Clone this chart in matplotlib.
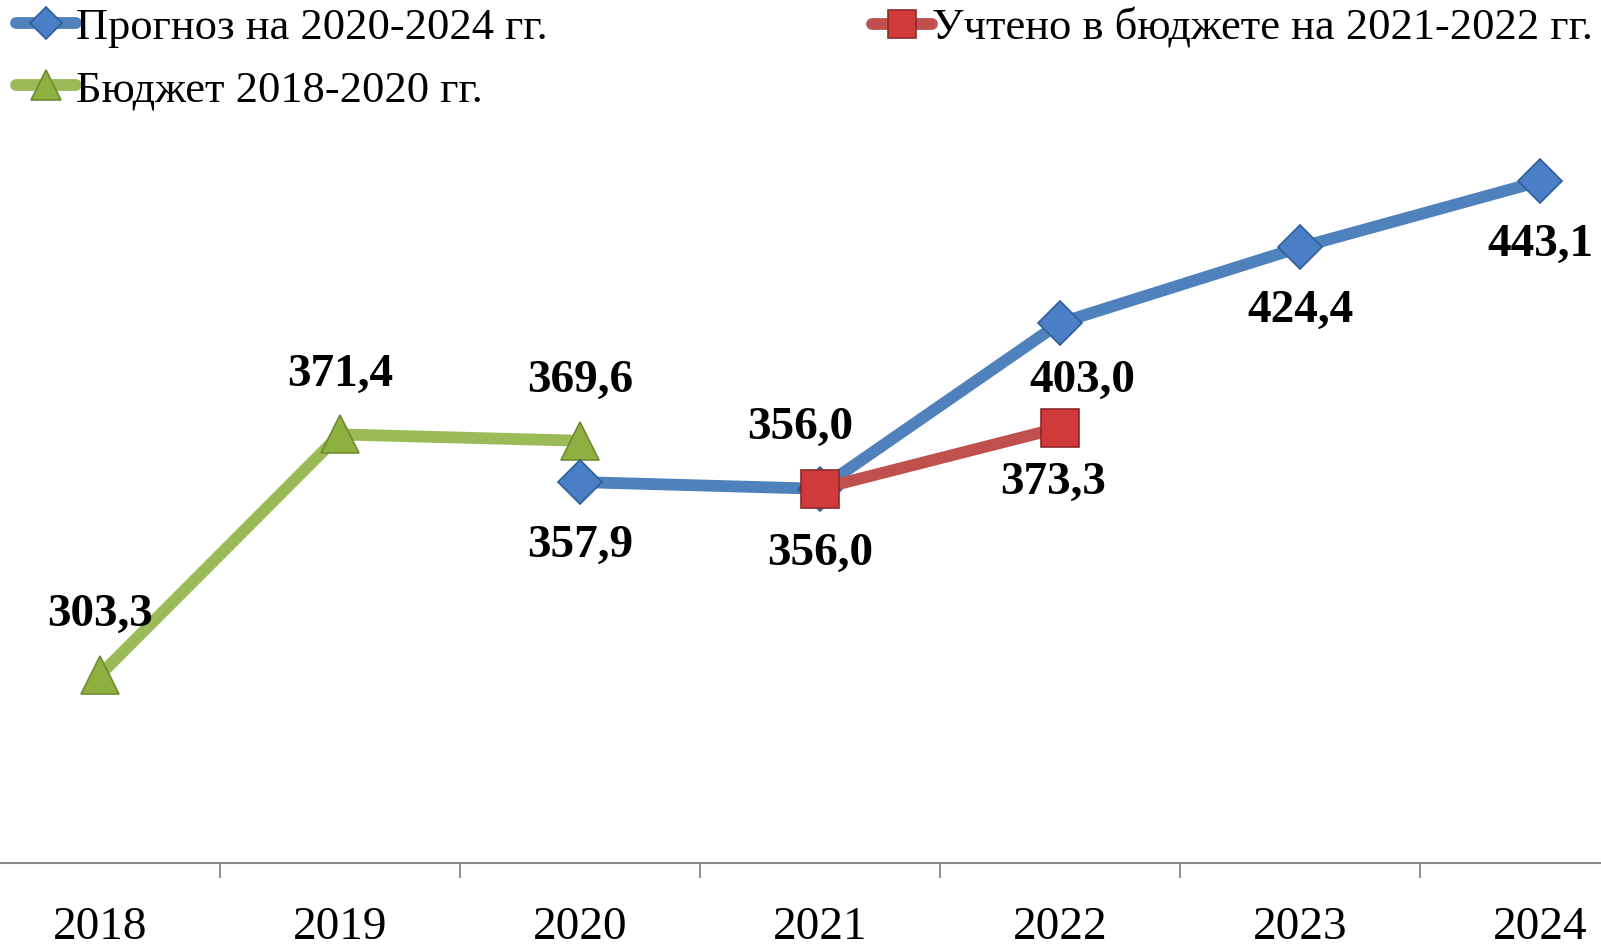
import matplotlib.pyplot as plt
import numpy as np

plt.rcParams['font.family'] = ['Liberation Serif', 'DejaVu Serif']

years = ['2018', '2019', '2020', '2021', '2022', '2023', '2024']

# Прогноз на 2020-2024 гг. (2020..2024)
forecast = [np.nan, np.nan, 357.9, 356.0, 403.0, 424.4, 443.1]
# Учтено в бюджете на 2021-2022 гг.
accounted = [np.nan, np.nan, np.nan, 356.0, 373.3, np.nan, np.nan]
# Бюджет 2018-2020 гг.
budget = [303.3, 371.4, 369.6, np.nan, np.nan, np.nan, np.nan]

blue = '#4F81BD'
red = '#C0504D'
green = '#9BBB59'

fig = plt.figure(figsize=(16.01, 9.51), dpi=100)
ax = fig.add_axes([-20 / 1601, 0.0925, 1680 / 1601, 0.7425])

x = np.arange(len(years))

l_green, = ax.plot(x, budget, color=green, lw=8.5, marker='^', ms=28,
                   mfc='#8DB040', mec='#6E8A33', mew=1.2, solid_capstyle='round', zorder=3)
l_blue, = ax.plot(x, forecast, color=blue, lw=8.5, marker='D', ms=22,
                  mfc='#4A7FC8', mec='#2F5D98', mew=1.2, solid_capstyle='round', zorder=3)
l_red, = ax.plot(x, accounted, color=red, lw=8.5, marker='s', ms=27,
                 mfc='#D23B3B', mec='#8E2A2A', mew=1.2, solid_capstyle='round', zorder=4)

def fmt(v):
    return f'{v:.1f}'.replace('.', ',')

lab = dict(fontsize=34, fontweight='bold', ha='center', va='center',
           textcoords='offset points', zorder=5)

# green labels above
for i, v in enumerate(budget):
    if not np.isnan(v):
        ax.annotate(fmt(v), (x[i], v), xytext=(0, 43), **lab)
# blue labels
offsets_blue = {2: (0, -46), 3: (-14, 44), 4: (16, -42), 5: (0, -46), 6: (0, -46)}
for i, v in enumerate(forecast):
    if not np.isnan(v):
        ax.annotate(fmt(v), (x[i], v), xytext=offsets_blue[i], **lab)
# red labels below
offsets_red = {3: (0, -47), 4: (-5, -40)}
for i, v in enumerate(accounted):
    if not np.isnan(v):
        ax.annotate(fmt(v), (x[i], v), xytext=offsets_red[i], **lab)

ax.set_xlim(-0.5, 6.5)
ax.set_ylim(250, 450)
ax.set_yticks([])
for s in ['top', 'right', 'left']:
    ax.spines[s].set_visible(False)
ax.spines['bottom'].set_color('#888888')
ax.spines['bottom'].set_linewidth(1.5)

ax.set_xticks(x)
ax.set_xticklabels(years, fontsize=34)
ax.tick_params(axis='x', which='major', length=0, pad=31)
ax.set_xticks(x[:-1] + 0.5, minor=True)
ax.tick_params(axis='x', which='minor', length=11, width=1.3, color='#888888', direction='out')

leg_kw = dict(frameon=False, fontsize=32, handlelength=1.35, handletextpad=0.0,
              borderaxespad=0, borderpad=0, labelspacing=0.5)
fig.legend([l_blue, l_green], ['Прогноз на 2020-2024 гг.', 'Бюджет 2018-2020 гг.'],
           loc='upper left', bbox_to_anchor=(16 / 1601, 0.992), markerscale=0.75, **leg_kw)
fig.legend([l_red], ['Учтено в бюджете на 2021-2022 гг.'],
           loc='upper left', bbox_to_anchor=(872 / 1601, 0.992), markerscale=0.75, **leg_kw)

fig.savefig('out.png', dpi=100)
